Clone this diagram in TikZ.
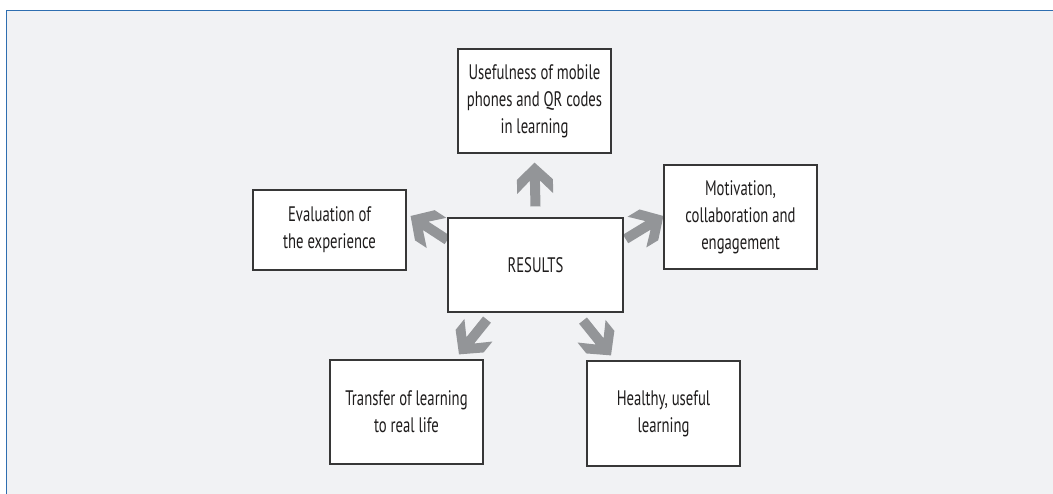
\documentclass[tikz,border=0pt]{standalone}
\usepackage{fontspec}
\setmainfont{PT Sans}[FakeStretch=0.7]
\usetikzlibrary{calc,backgrounds}
\definecolor{bgfill}{RGB}{241,242,244}
\definecolor{frameblue}{RGB}{46,110,176}
\definecolor{arrgray}{RGB}{147,149,152}
\definecolor{boxline}{RGB}{55,55,55}
\definecolor{txtcol}{RGB}{30,28,28}
\newcommand\myblockarrow[2]{%
  \fill[arrgray] let \p1=($(#1)-(#2)$), \n1={atan2(\y1,\x1)}, \n2={veclen(\x1,\y1)} in
    ([shift={(#2)},rotate=\n1]0,0) -- ([shift={(#2)},rotate=\n1]17,18) -- ([shift={(#2)},rotate=\n1]31,18)
    -- ([shift={(#2)},rotate=\n1]18,5) -- ([shift={(#2)},rotate=\n1]\n2,5) -- ([shift={(#2)},rotate=\n1]\n2,-5)
    -- ([shift={(#2)},rotate=\n1]18,-5) -- ([shift={(#2)},rotate=\n1]31,-18) -- ([shift={(#2)},rotate=\n1]17,-18) -- cycle;}
\tikzset{
  box/.style={draw=boxline, fill=white, line width=1.2pt, minimum width=153pt, minimum height=104pt,
    align=center, inner sep=0pt, text=txtcol, font=\fontsize{21}{27}\selectfont},
}
\begin{document}
\begin{tikzpicture}[x=1pt,y=1pt]
\useasboundingbox (0,0) rectangle (1053,494);
\node[box] (top) at (534.5,393) {Usefulness of mobile\\phones and QR codes\\in learning};
\node[box, minimum height=80pt] (eval) at (329.5,264) {Evaluation of\\the experience};
\node[box, minimum width=175pt, minimum height=94pt] (res) at (535.5,229) {RESULTS};
\node[box] (mot) at (740.5,277) {Motivation,\\collaboration and\\engagement};
\node[box] (trans) at (406.5,82) {Transfer of learning\\to real life};
\node[box, minimum height=105pt] (health) at (663.5,80.5) {Healthy, useful\\learning};
\coordinate (upS) at ([yshift=11pt]res.north);
\coordinate (upT) at ([yshift=-9pt]top.south);
\coordinate (ulS) at ([yshift=25pt]res.west);
\coordinate (ulT) at ([xshift=4pt,yshift=14pt]eval.east);
\coordinate (urS) at ([xshift=2pt,yshift=26pt]res.east);
\coordinate (urT) at ([yshift=1pt]mot.west);
\coordinate (llS) at ([xshift=-48.5pt,yshift=-7pt]res.south);
\coordinate (llT) at ([xshift=52.5pt,yshift=5pt]trans.north);
\coordinate (lrS) at ([xshift=47.5pt,yshift=-8pt]res.south);
\coordinate (lrT) at ([xshift=-52.5pt,yshift=5pt]health.north);
\begin{pgfonlayer}{background}
\fill[bgfill] (6,0) rectangle (1053,483.5);
\draw[frameblue, line width=1.6pt] (6.3,0) -- (6.3,483.5) -- (1053,483.5);
\myblockarrow{upS}{upT}
\myblockarrow{ulS}{ulT}
\myblockarrow{urS}{urT}
\myblockarrow{llS}{llT}
\myblockarrow{lrS}{lrT}
\end{pgfonlayer}
\end{tikzpicture}
\end{document}
